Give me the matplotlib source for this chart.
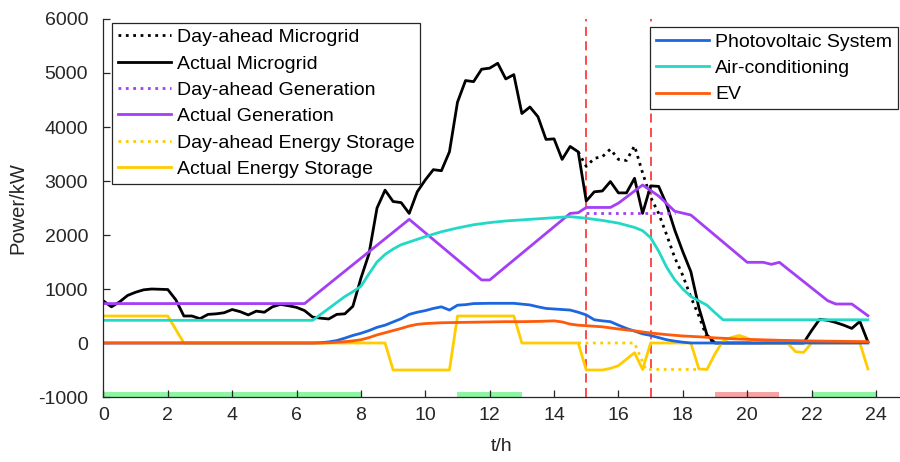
import numpy as np
import matplotlib
matplotlib.use('Agg')
import matplotlib.pyplot as plt

plt.rcParams['font.family'] = ['Liberation Sans', 'DejaVu Sans']
plt.rcParams['axes.unicode_minus'] = False

# Actual microgrid power (kW), 15 min steps
t_mg = [0, 0.25, 0.5, 0.75, 1.0, 1.25, 1.5, 1.75, 2.0, 2.25, 2.5, 2.75, 3.0, 3.25, 3.5, 3.75,
        4.0, 4.25, 4.5, 4.75, 5.0, 5.25, 5.5, 5.75, 6.0, 6.25, 6.5, 6.75, 7.0, 7.25, 7.5, 7.75,
        8.0, 8.25, 8.5, 8.75, 9.0, 9.25, 9.5, 9.75, 10.0, 10.25, 10.5, 10.75, 11.0, 11.25, 11.5, 11.75,
        12.0, 12.25, 12.5, 12.75, 13.0, 13.25, 13.5, 13.75, 14.0, 14.25, 14.5, 14.75, 15.0, 15.25, 15.5, 15.75,
        16.0, 16.25, 16.5, 16.75, 17.0, 17.25, 17.5, 17.75, 18.0, 18.25, 18.5, 18.75, 19.0, 21.75,
        22.0, 22.25, 22.5, 22.75, 23.0, 23.25, 23.5, 23.75]
p_mg = [780, 670, 760, 880, 940, 985, 1000, 995, 990, 800, 500, 500, 450, 530, 540, 560,
        620, 580, 520, 590, 570, 670, 715, 690, 660, 600, 480, 460, 445, 530, 540, 680,
        1200, 1650, 2500, 2830, 2620, 2600, 2400, 2800, 3020, 3210, 3190, 3540, 4460, 4860, 4840, 5070,
        5090, 5180, 4890, 4970, 4250, 4370, 4190, 3770, 3780, 3400, 3640, 3540, 2630, 2800, 2815, 2990,
        2780, 2780, 3050, 2400, 2910, 2900, 2560, 2090, 1690, 1320, 650, 150, 0, 0,
        230, 440, 420, 380, 330, 270, 400, 20]
# Day-ahead microgrid (only where it differs)
t_mg_da = [14.75, 15.0, 15.25, 15.5, 15.75, 16.0, 16.25, 16.5, 16.75, 17.0, 17.25, 17.5, 17.75, 18.0, 18.25, 18.5, 18.75, 19.0]
p_mg_da = [3540, 3270, 3420, 3450, 3590, 3400, 3380, 3650, 3150, 2700, 2400, 2000, 1580, 1250, 850, 500, 100, 0]

# Generation
t_gen = [0, 6.25, 9.5, 11.75, 12.0, 14.5, 14.75, 15.0, 15.75, 16.0, 16.75, 17.25, 17.75, 18.25,
         20.0, 20.5, 20.75, 21.0, 22.5, 22.75, 23.25, 23.75]
p_gen = [730, 730, 2290, 1167, 1167, 2400, 2413, 2510, 2510, 2590, 2926, 2722, 2440, 2370,
         1494, 1494, 1457, 1494, 784, 722, 722, 506]
t_gen_da = [15.0, 17.75]
p_gen_da = [2400, 2400]

# Energy storage
t_es = [0, 2.0, 2.5, 8.75, 9.0, 10.75, 11.0, 12.75, 13.0, 14.75, 15.0, 15.5, 15.75, 16.0, 16.25, 16.5,
        16.75, 17.0, 18.25, 18.5, 18.75, 19.0, 19.25, 19.5, 19.75, 20.0, 20.25, 20.5, 21.25, 21.5,
        21.75, 22.0, 23.5, 23.75]
p_es = [500, 500, 0, 0, -500, -500, 500, 500, 0, 0, -500, -500, -470, -420, -300, -180,
        -490, 0, 0, -480, -490, -200, 40, 100, 140, 90, 20, 0, 0, -160,
        -175, 0, 0, -480]
t_es_da = [14.75, 16.5, 16.85, 18.5]
p_es_da = [0, 0, -490, -490]

# Photovoltaic
t_pv = [0, 6.5, 6.75, 7.0, 7.25, 7.5, 7.75, 8.0, 8.25, 8.5, 8.75, 9.0, 9.25, 9.5, 9.75, 10.0, 10.25,
        10.5, 10.75, 11.0, 11.25, 11.5, 12.0, 12.75, 13.0, 13.25, 13.5, 13.75, 14.0, 14.5, 14.75,
        15.0, 15.25, 15.5, 15.75, 16.0, 16.25, 16.5, 16.75, 17.0, 17.25, 17.5, 17.75, 18.0, 18.25, 23.75]
p_pv = [0, 0, 5, 20, 45, 90, 140, 180, 230, 290, 330, 390, 450, 530, 570, 600, 640,
        670, 610, 700, 710, 730, 735, 735, 720, 705, 670, 640, 630, 610, 570,
        520, 430, 410, 395, 330, 270, 220, 170, 140, 100, 60, 35, 15, 0, 0]

# Air-conditioning
t_ac = [0, 6.5, 7.0, 7.5, 7.75, 8.0, 8.25, 8.5, 8.75, 9.0, 9.25, 9.5, 9.75, 10.0, 10.5, 11.0, 11.5,
        12.0, 12.5, 13.0, 13.5, 14.0, 14.5, 15.0, 15.5, 16.0, 16.5, 16.75, 17.0, 17.25, 17.5, 17.75,
        18.0, 18.25, 18.5, 18.75, 19.0, 19.25, 23.75]
p_ac = [420, 420, 640, 860, 950, 1050, 1280, 1500, 1640, 1740, 1820, 1870, 1920, 1970, 2060, 2130, 2190,
        2230, 2260, 2280, 2300, 2320, 2340, 2310, 2270, 2220, 2140, 2080, 1950, 1700, 1400, 1170,
        1000, 860, 780, 700, 560, 430, 430]

# EV
t_ev = [0, 6.75, 7.0, 7.25, 7.5, 7.75, 8.0, 8.25, 8.5, 8.75, 9.0, 9.25, 9.5, 9.75, 10.0, 10.5, 11.0,
        11.5, 12.0, 12.5, 13.0, 13.5, 14.0, 14.25, 14.5, 14.75, 15.0, 15.5, 16.0, 16.5, 17.0, 17.5,
        18.0, 18.5, 19.0, 19.5, 20.0, 21.0, 22.0, 23.0, 23.75]
p_ev = [0, 0, 5, 15, 25, 40, 60, 100, 150, 190, 230, 270, 315, 345, 360, 375, 380,
        385, 390, 395, 395, 400, 410, 390, 350, 330, 320, 300, 260, 225, 185, 155,
        130, 115, 95, 80, 68, 50, 38, 30, 25]

# time-of-use bands at the bottom
green_bands = [(0, 8), (11, 13), (22, 24)]
red_bands = [(19, 21)]
events = [15, 17]

fig = plt.figure(figsize=(9, 4.62), dpi=100)
ax = fig.add_axes([103.4 / 900, 1 - 397 / 462, (900 - 103.4) / 900, 378 / 462])

for a, b in green_bands:
    ax.fill_between([a, b], -1000, -900, color='#8ef5a2', lw=0, zorder=1)
for a, b in red_bands:
    ax.fill_between([a, b], -1000, -900, color='#f5a3a3', lw=0, zorder=1)
for x in events:
    ax.axvline(x, color='#ff3b3b', ls=(0, (5, 3)), lw=1.3, zorder=2)

lw = 2
h1 = [
    ax.plot(t_mg_da, p_mg_da, ':', color='black', lw=lw, label='Day-ahead Microgrid')[0],
    ax.plot(t_mg, p_mg, '-', color='black', lw=lw, label='Actual Microgrid')[0],
    ax.plot(t_gen_da, p_gen_da, ':', color='#a43ff5', lw=lw, label='Day-ahead Generation')[0],
    ax.plot(t_gen, p_gen, '-', color='#a43ff5', lw=lw, label='Actual Generation')[0],
    ax.plot(t_es_da, p_es_da, ':', color='#ffcc00', lw=lw, label='Day-ahead Energy Storage')[0],
    ax.plot(t_es, p_es, '-', color='#ffcc00', lw=lw, label='Actual Energy Storage')[0],
]
h2 = [
    ax.plot(t_pv, p_pv, '-', color='#1c66e0', lw=lw, label='Photovoltaic System')[0],
    ax.plot(t_ac, p_ac, '-', color='#22d8c6', lw=lw, label='Air-conditioning')[0],
    ax.plot(t_ev, p_ev, '-', color='#ff5a0a', lw=lw, label='EV')[0],
]

ax.set_xlim(0, (900 - 103.4) / 32.19)
ax.set_ylim(-1000, 6000)
ax.set_xticks(np.arange(0, 25, 2))
ax.set_yticks(np.arange(-1000, 6001, 1000))
ax.spines['top'].set_visible(False)
ax.spines['right'].set_visible(False)
for s in ['left', 'bottom']:
    ax.spines[s].set_color('#262626')
    ax.spines[s].set_linewidth(0.9)
ax.tick_params(direction='in', length=5, width=0.9, color='#262626', labelsize=14, labelcolor='#262626')
ax.tick_params(axis='y', pad=11)
ax.tick_params(axis='x', pad=7)
ax.set_xlabel('t/h', fontsize=14, color='#262626', labelpad=10)
ax.set_ylabel('Power/kW', fontsize=14.5, color='#262626', labelpad=8)

leg_kw = dict(fontsize=14, frameon=True, fancybox=False, framealpha=1, edgecolor='#262626',
              handlelength=2.75, handletextpad=0.3, labelspacing=0.45, borderpad=0.3, borderaxespad=0)
leg1 = ax.legend(handles=h1, loc='upper left', bbox_to_anchor=(111.7 / 900, 1 - 22.7 / 462),
                 bbox_transform=fig.transFigure, **leg_kw)
leg1.get_frame().set_linewidth(0.9)
ax.add_artist(leg1)
leg2 = ax.legend(handles=h2, loc='upper right', bbox_to_anchor=(898 / 900, 1 - 27.3 / 462),
                 bbox_transform=fig.transFigure, **leg_kw)
leg2.get_frame().set_linewidth(0.9)

fig.savefig('out.png', dpi=100)
